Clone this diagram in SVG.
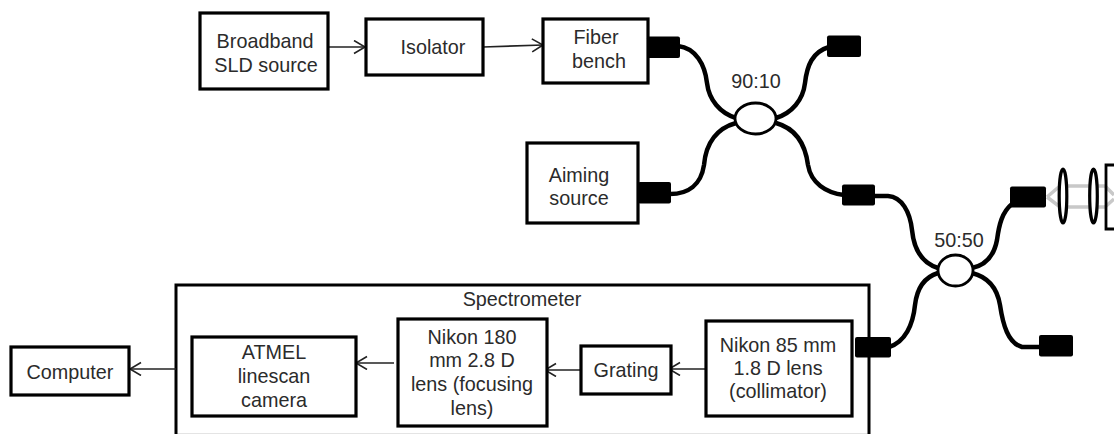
<svg xmlns="http://www.w3.org/2000/svg" width="1114" height="434" viewBox="0 0 1114 434">
<style>
text{font-family:"Liberation Sans",Arial,sans-serif;font-size:19.8px;fill:#2b2b2b;text-anchor:middle}
.b{fill:#fff;stroke:#000;stroke-width:3.2}
.c{fill:none;stroke:#222;stroke-width:1.6}
.f{fill:none;stroke:#000;stroke-width:4.500}
.p{fill:#000}
.l{fill:#fff;stroke:#000;stroke-width:2.800}
</style>
<defs><marker id="a" markerUnits="userSpaceOnUse" markerWidth="14" markerHeight="16" refX="12" refY="7" orient="auto"><path d="M1 0.5L12 7L1 13.5" fill="none" stroke="#222" stroke-width="1.6"/></marker></defs>
<rect width="1114" height="434" fill="#fff"/>
<g id="beam" fill="none" stroke="#c8c8c8" stroke-width="3.5"><path d="M1047 197L1060 186H1105L1114 195M1047 197L1060 207H1105L1114 199"/></g>
<g id="spectrometer"><path d="M176 433.500H869" stroke="#e4e4e4" stroke-width="1" fill="none"/><path fill="none" stroke="#000" stroke-width="3" d="M176 434V285H869V434"/><text x="522" y="306">Spectrometer</text></g>
<g id="connectors">
<path class="c" marker-end="url(#a)" d="M328 47H365"/>
<path class="c" marker-end="url(#a)" d="M483 47L543 45"/>
<path class="c" marker-end="url(#a)" d="M176 369H130"/>
<path class="c" marker-end="url(#a)" d="M394 363H356"/>
<path class="c" marker-end="url(#a)" d="M583 370H545"/>
<path class="c" marker-end="url(#a)" d="M707 369H669"/>
<path class="f" d="M678 46C696 48 705 65 707 83C709 100 720 113 736 118"/>
<path class="f" d="M829 47C812 52 807 66 805 83C803 100 792 113 776 118"/>
<path class="f" d="M670 194C688 194 701 185 704 165C706 142 718 128 736 123"/>
<path class="f" d="M844 195C826 193 811 183 808 165C805 142 794 128 776 123"/>
<path class="f" d="M873 196H888C902 197 910 212 912 230C914 250 922 263 938 268"/>
<path class="f" d="M1012 204C1002 212 999 225 997 240C994 256 986 265 972 268"/>
<path class="f" d="M889 347C905 342 913 325 915 305C917 288 925 277 938 273"/>
<path class="f" d="M1041 347H1022C1008 343 1003 325 1000 305C997 287 988 277 972 273"/>
</g>
<g id="broadband"><rect class="b" x="200" y="13" width="128" height="76"/><text x="265" y="48">Broadband</text><text x="266" y="72">SLD source</text></g>
<g id="isolator"><rect class="b" x="366" y="19" width="117" height="56"/><text x="433" y="54">Isolator</text></g>
<g id="fiber-bench"><rect class="b" x="543" y="19" width="105" height="64"/><text x="596" y="44">Fiber</text><text x="599" y="68">bench</text></g>
<g id="aiming"><rect class="b" x="527" y="143" width="111" height="80"/><text x="579" y="182">Aiming</text><text x="579" y="205">source</text></g>
<g id="computer"><rect class="b" x="11" y="347" width="118" height="48"/><text x="70" y="379">Computer</text></g>
<g id="atmel"><rect class="b" x="192" y="337" width="164" height="79"/><text x="274" y="359">ATMEL</text><text x="274" y="383">linescan</text><text x="274" y="407">camera</text></g>
<g id="nikon180"><rect class="b" x="398" y="319" width="149" height="107"/><text x="472" y="344">Nikon 180</text><text x="472" y="367">mm 2.8 D</text><text x="472" y="391">lens (focusing</text><text x="472" y="415">lens)</text></g>
<g id="grating"><rect class="b" x="581" y="346" width="90" height="48"/><text x="626" y="377">Grating</text></g>
<g id="nikon85"><rect class="b" x="706" y="321" width="146" height="95"/><text x="778" y="352">Nikon 85 mm</text><text x="778" y="375">1.8 D lens</text><text x="778" y="398">(collimator)</text></g>
<g id="coupler-9010"><ellipse class="l" cx="755.500" cy="118.500" rx="20.500" ry="15.500"/><text x="756" y="88">90:10</text></g>
<g id="coupler-5050"><ellipse class="l" cx="955.500" cy="270.500" rx="17.500" ry="15.500"/><text x="959" y="247">50:50</text></g>
<g id="connectors-ports">
<rect class="p" x="647" y="36.500" width="33" height="21.500" rx="2"/>
<rect class="p" x="827" y="35.500" width="34" height="21.500" rx="2"/>
<rect class="p" x="638" y="182" width="33" height="21.500" rx="2"/>
<rect class="p" x="842" y="184.500" width="33" height="21" rx="2"/>
<rect class="p" x="1010" y="186.500" width="36" height="21" rx="2"/>
<rect class="p" x="1039" y="335" width="34" height="21.500" rx="2"/>
<rect class="p" x="855" y="337" width="36" height="20.500" rx="2"/>
</g>
<g id="lenses" fill="#fff" stroke="#000" stroke-width="3.200"><ellipse cx="1063" cy="196" rx="3.800" ry="27"/><ellipse cx="1093.500" cy="196" rx="3.800" ry="27"/></g>
<g id="detector"><path fill="none" stroke="#000" stroke-width="2.800" d="M1114 229H1106V165H1114"/></g>
</svg>
